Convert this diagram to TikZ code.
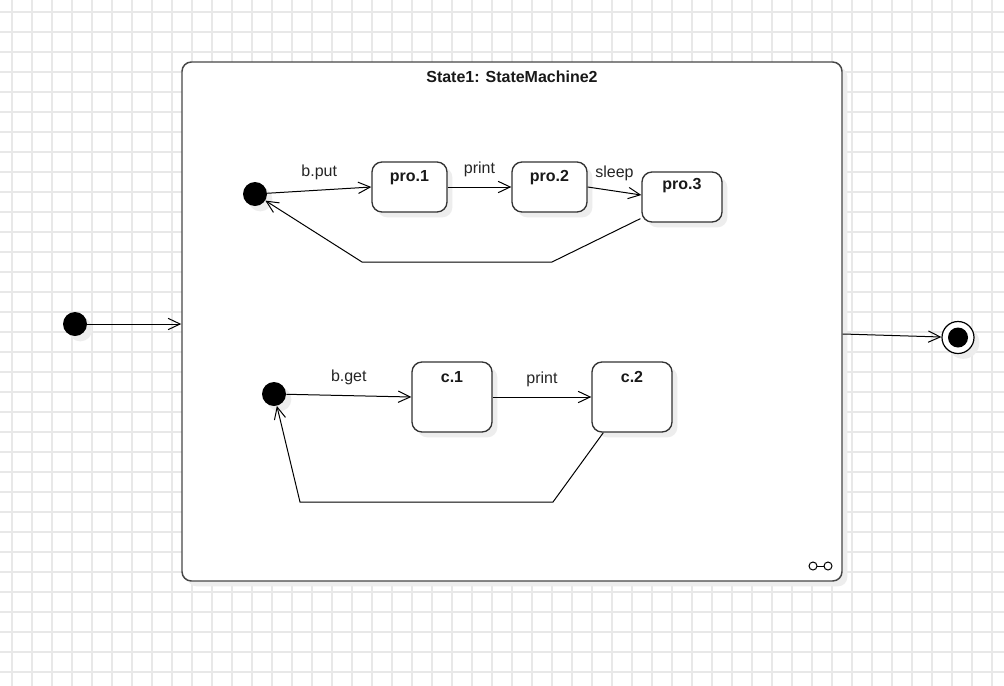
\documentclass[tikz,border=0pt]{standalone}
\usepackage{fontspec}
\setmainfont{Liberation Sans}
\usetikzlibrary{arrows.meta,calc,shadows}
\begin{document}
\begin{tikzpicture}[x=0.75pt,y=-0.75pt,
  gridline/.style={draw=black!9, line width=0.8pt},
  sh/.style={drop shadow={shadow xshift=4pt, shadow yshift=-4pt, fill=black!7, opacity=1}},
  frame/.style={draw=black!72, line width=1.1pt, fill=white, rounded corners=7pt, sh, inner sep=0pt},
  statebox/.style={draw=black!80, line width=1pt, fill=white, rounded corners=7.5pt, sh, inner sep=0pt,
     minimum height=37.5pt},
  slab/.style={font=\fontsize{12}{14}\selectfont\bfseries, text=black!90, inner sep=0pt},
  elab/.style={font=\fontsize{12}{14}\selectfont, text=black!85, inner sep=0pt, midway, yshift=13.5pt},
  dot/.style={circle, fill=black, inner sep=0pt, minimum size=18pt, sh},
  arr/.style={draw=black, line width=0.75pt, -{Straight Barb[length=9pt,width=8.5pt,line width=0.75pt]}},
]
\useasboundingbox (0,0) rectangle (1004,686);
\fill[white] (0,0) rectangle (1004,686);
\foreach \x in {12,32,...,992} \draw[gridline] (\x,0) -- (\x,686);
\foreach \y in {12,32,...,672} \draw[gridline] (0,\y) -- (1004,\y);

% composite state
\node[frame, minimum width=495pt, minimum height=389.25pt] (box) at (512,321.5) {};
\node[slab] (title) at (512,77) {State1: StateMachine2};

% outer initial and final
\node[dot] (i0) at (75,324) {};
\node[circle, draw=black, line width=0.9pt, fill=white, minimum size=24pt, inner sep=0pt, sh,
  path picture={\fill[black] (path picture bounding box.center) circle[radius=7.5pt];}] (fin) at (958,337.5) {};

% top region
\node[dot] (d1) at (255,194) {};
\node[statebox, minimum width=56.25pt, label={[slab, anchor=center, yshift=-12pt]north:pro.1}] (pro1) at (409.5,187) {};
\node[statebox, minimum width=56.25pt, label={[slab, anchor=center, yshift=-12pt]north:pro.2}] (pro2) at (549.5,187) {};
\node[statebox, minimum width=60pt, label={[slab, anchor=center, yshift=-11pt]north:pro.3}] (pro3) at (682,197) {};

% bottom region
\node[dot] (d2) at (274,394) {};
\node[statebox, minimum width=60pt, minimum height=52.5pt, label={[slab, anchor=center, yshift=-12pt]north:c.1}] (c1) at (452,397) {};
\node[statebox, minimum width=60pt, minimum height=52.5pt, label={[slab, anchor=center, yshift=-12pt]north:c.2}] (c2) at (632,397) {};

% connectors outside
\draw[arr] (i0) -- (box.west |- i0);
\draw[arr] ($(box.east)+(0,12.5)$) -- (fin);

% top connectors
\draw[arr] (d1) -- node[elab]{b.put} (pro1.west);
\draw[arr] (pro1.east) -- node[elab]{print} (pro2.west);
\draw[arr] (pro2.east) -- node[elab]{sleep} ($(pro3.west)+(0,-2)$);
\coordinate (t1) at (552,262);
\coordinate (t2) at (362,262);
\draw[arr] ($(pro3.south west)+(-1,-4)$) -- (t1) -- (t2) -- (d1);

% bottom connectors
\draw[arr] (d2) -- node[elab]{b.get} (c1.west);
\draw[arr] (c1.east) -- node[elab]{print} (c2.west);
\coordinate (u1) at (553,502);
\coordinate (u2) at (300,502);
\draw[arr] ($(c2.south west)+(12,0)$) -- (u1) -- (u2) -- (d2);

% composite icon
\draw[black, line width=0.75pt] (813,566) circle[radius=3pt] (828,566) circle[radius=3pt];
\draw[black, line width=0.75pt] (817,566) -- (824,566);
\end{tikzpicture}
\end{document}
